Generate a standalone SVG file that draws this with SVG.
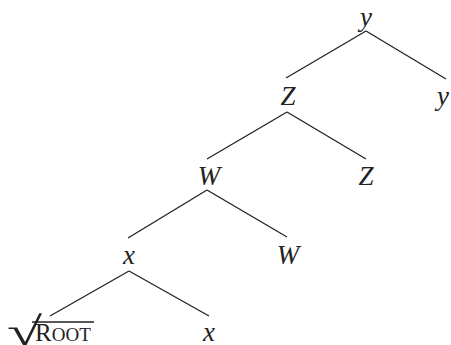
<svg xmlns="http://www.w3.org/2000/svg" width="451" height="345" viewBox="0 0 451 345">
<style>
.lbl{font-family:"Liberation Serif","Times New Roman",serif;font-style:italic;font-size:27px;fill:#222;text-anchor:middle}
.sc{font-family:"Liberation Serif","Times New Roman",serif;fill:#222}
.e{stroke:#222;stroke-width:1.3;fill:none}
</style>
<rect width="451" height="345" fill="#fff"/>
<g id="connectors">
<line class="e" x1="366" y1="31" x2="286" y2="78"/>
<line class="e" x1="366" y1="31" x2="446" y2="79"/>
<line class="e" x1="287" y1="112" x2="207" y2="159"/>
<line class="e" x1="287" y1="112" x2="366" y2="159"/>
<line class="e" x1="207" y1="190" x2="128" y2="238"/>
<line class="e" x1="207" y1="190" x2="287" y2="237"/>
<line class="e" x1="129" y1="271" x2="50" y2="316"/>
<line class="e" x1="129" y1="271" x2="209" y2="316"/>
</g>
<g id="n-y-root"><text class="lbl" x="366" y="26">y</text></g>
<g id="n-Z"><text class="lbl" x="288" y="105">Z</text></g>
<g id="n-y-leaf"><text class="lbl" x="443" y="105">y</text></g>
<g id="n-W"><text class="lbl" x="209" y="185">W</text></g>
<g id="n-Z-leaf"><text class="lbl" x="366" y="185">Z</text></g>
<g id="n-x"><text class="lbl" x="129" y="264">x</text></g>
<g id="n-W-leaf"><text class="lbl" x="288" y="264">W</text></g>
<g id="n-root">
<text class="sc" transform="translate(7,345) scale(1.6,1)" style="font-size:40px">√</text>
<line class="e" x1="32" y1="322" x2="94" y2="322"/>
<text class="sc" x="35" y="341" style="font-size:25px">R<tspan style="font-size:19px">OOT</tspan></text>
</g>
<g id="n-x-leaf"><text class="lbl" x="209" y="341">x</text></g>
</svg>
